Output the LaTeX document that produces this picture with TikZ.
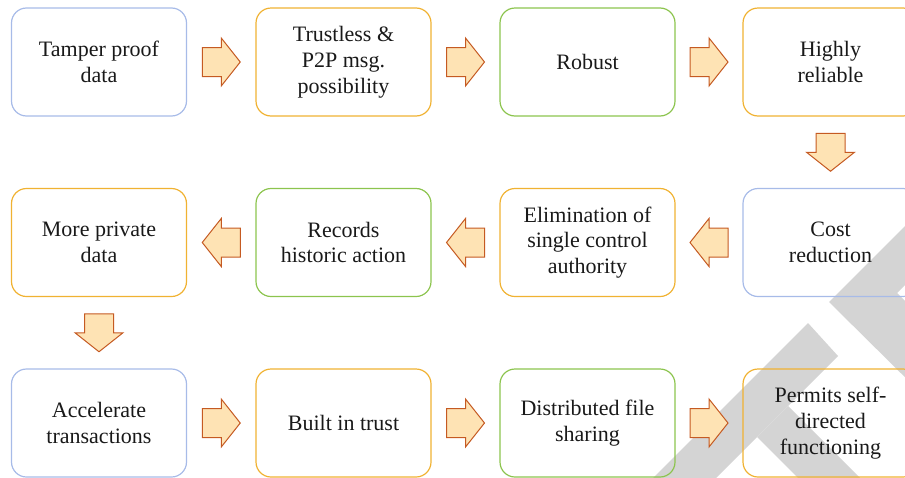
\documentclass[tikz,border=0pt]{standalone}
\usepackage{fontspec}
\setmainfont{Liberation Serif}
\usetikzlibrary{calc}
\definecolor{bblue}{HTML}{A7BBE8}
\definecolor{borange}{HTML}{F0B232}
\definecolor{bgreen}{HTML}{8CC44E}
\definecolor{afill}{HTML}{FEE3B4}
\definecolor{aline}{HTML}{C55A22}
\definecolor{wm}{HTML}{D4D4D4}
\tikzset{
  box/.style={draw, rounded corners=15pt, line width=1.2pt, minimum width=175pt,
    minimum height=108pt, align=center, inner sep=0pt,
    font=\fontsize{22}{25.8}\selectfont, text=black!90},
  bluebox/.style={box, draw=bblue},
  orangebox/.style={box, draw=borange},
  greenbox/.style={box, draw=bgreen},
  pics/barrow/.style={code={
    \draw[fill=afill, draw=aline, line width=1pt, line join=miter]
      (-19,-14.5) -- (0,-14.5) -- (0,-24) -- (19,0) -- (0,24) -- (0,14.5) -- (-19,14.5) -- cycle;}}
}
\begin{document}
\begin{tikzpicture}[x=1pt,y=-1pt]
\useasboundingbox (0,0) rectangle (905,477);
\clip (0,0) rectangle (905,477);
% watermark
\fill[wm] (808,323) -- (838,356) -- (694,500) -- (631,500) -- cycle;
\fill[wm] (757,437) -- (788,406) -- (882,500) -- (820,500) -- cycle;
\fill[wm] (925,206) -- (829,302) -- (925,397) -- (925,321) -- (897,293) -- (925,265) -- cycle;
% row 1
\node[bluebox]   (a1) at (99,62)    {Tamper proof\\data};
\node[orangebox] (a2) at (343.5,62) {Trustless \&\\P2P msg.\\possibility};
\node[greenbox]  (a3) at (587.5,62) {Robust};
\node[orangebox] (a4) at (830.5,62) {Highly\\reliable};
% row 2
\node[orangebox] (b1) at (99,242.5)    {More private\\data};
\node[greenbox]  (b2) at (343.5,242.5) {Records\\historic action};
\node[orangebox] (b3) at (587.5,242.5) {Elimination of\\single control\\authority};
\node[bluebox]   (b4) at (830.5,242.5) {Cost\\reduction};
% row 3
\node[bluebox]   (c1) at (99,423)    {Accelerate\\transactions};
\node[orangebox] (c2) at (343.5,423) {Built in trust};
\node[greenbox]  (c3) at (587.5,423) {Distributed file\\sharing};
\node[orangebox] (c4) at (830.5,423) {Permits self-\\directed\\functioning};
% arrows
\pic at ($(a1.east)!0.5!(a2.west)$) {barrow};
\pic at ($(a2.east)!0.5!(a3.west)$) {barrow};
\pic at ($(a3.east)!0.5!(a4.west)$) {barrow};
\pic[rotate=-90] at ($(a4.south)!0.5!(b4.north)$) {barrow};
\pic[rotate=180] at ($(b4.west)!0.5!(b3.east)$) {barrow};
\pic[rotate=180] at ($(b3.west)!0.5!(b2.east)$) {barrow};
\pic[rotate=180] at ($(b2.west)!0.5!(b1.east)$) {barrow};
\pic[rotate=-90] at ($(b1.south)!0.5!(c1.north)$) {barrow};
\pic at ($(c1.east)!0.5!(c2.west)$) {barrow};
\pic at ($(c2.east)!0.5!(c3.west)$) {barrow};
\pic at ($(c3.east)!0.5!(c4.west)$) {barrow};
\end{tikzpicture}
\end{document}
